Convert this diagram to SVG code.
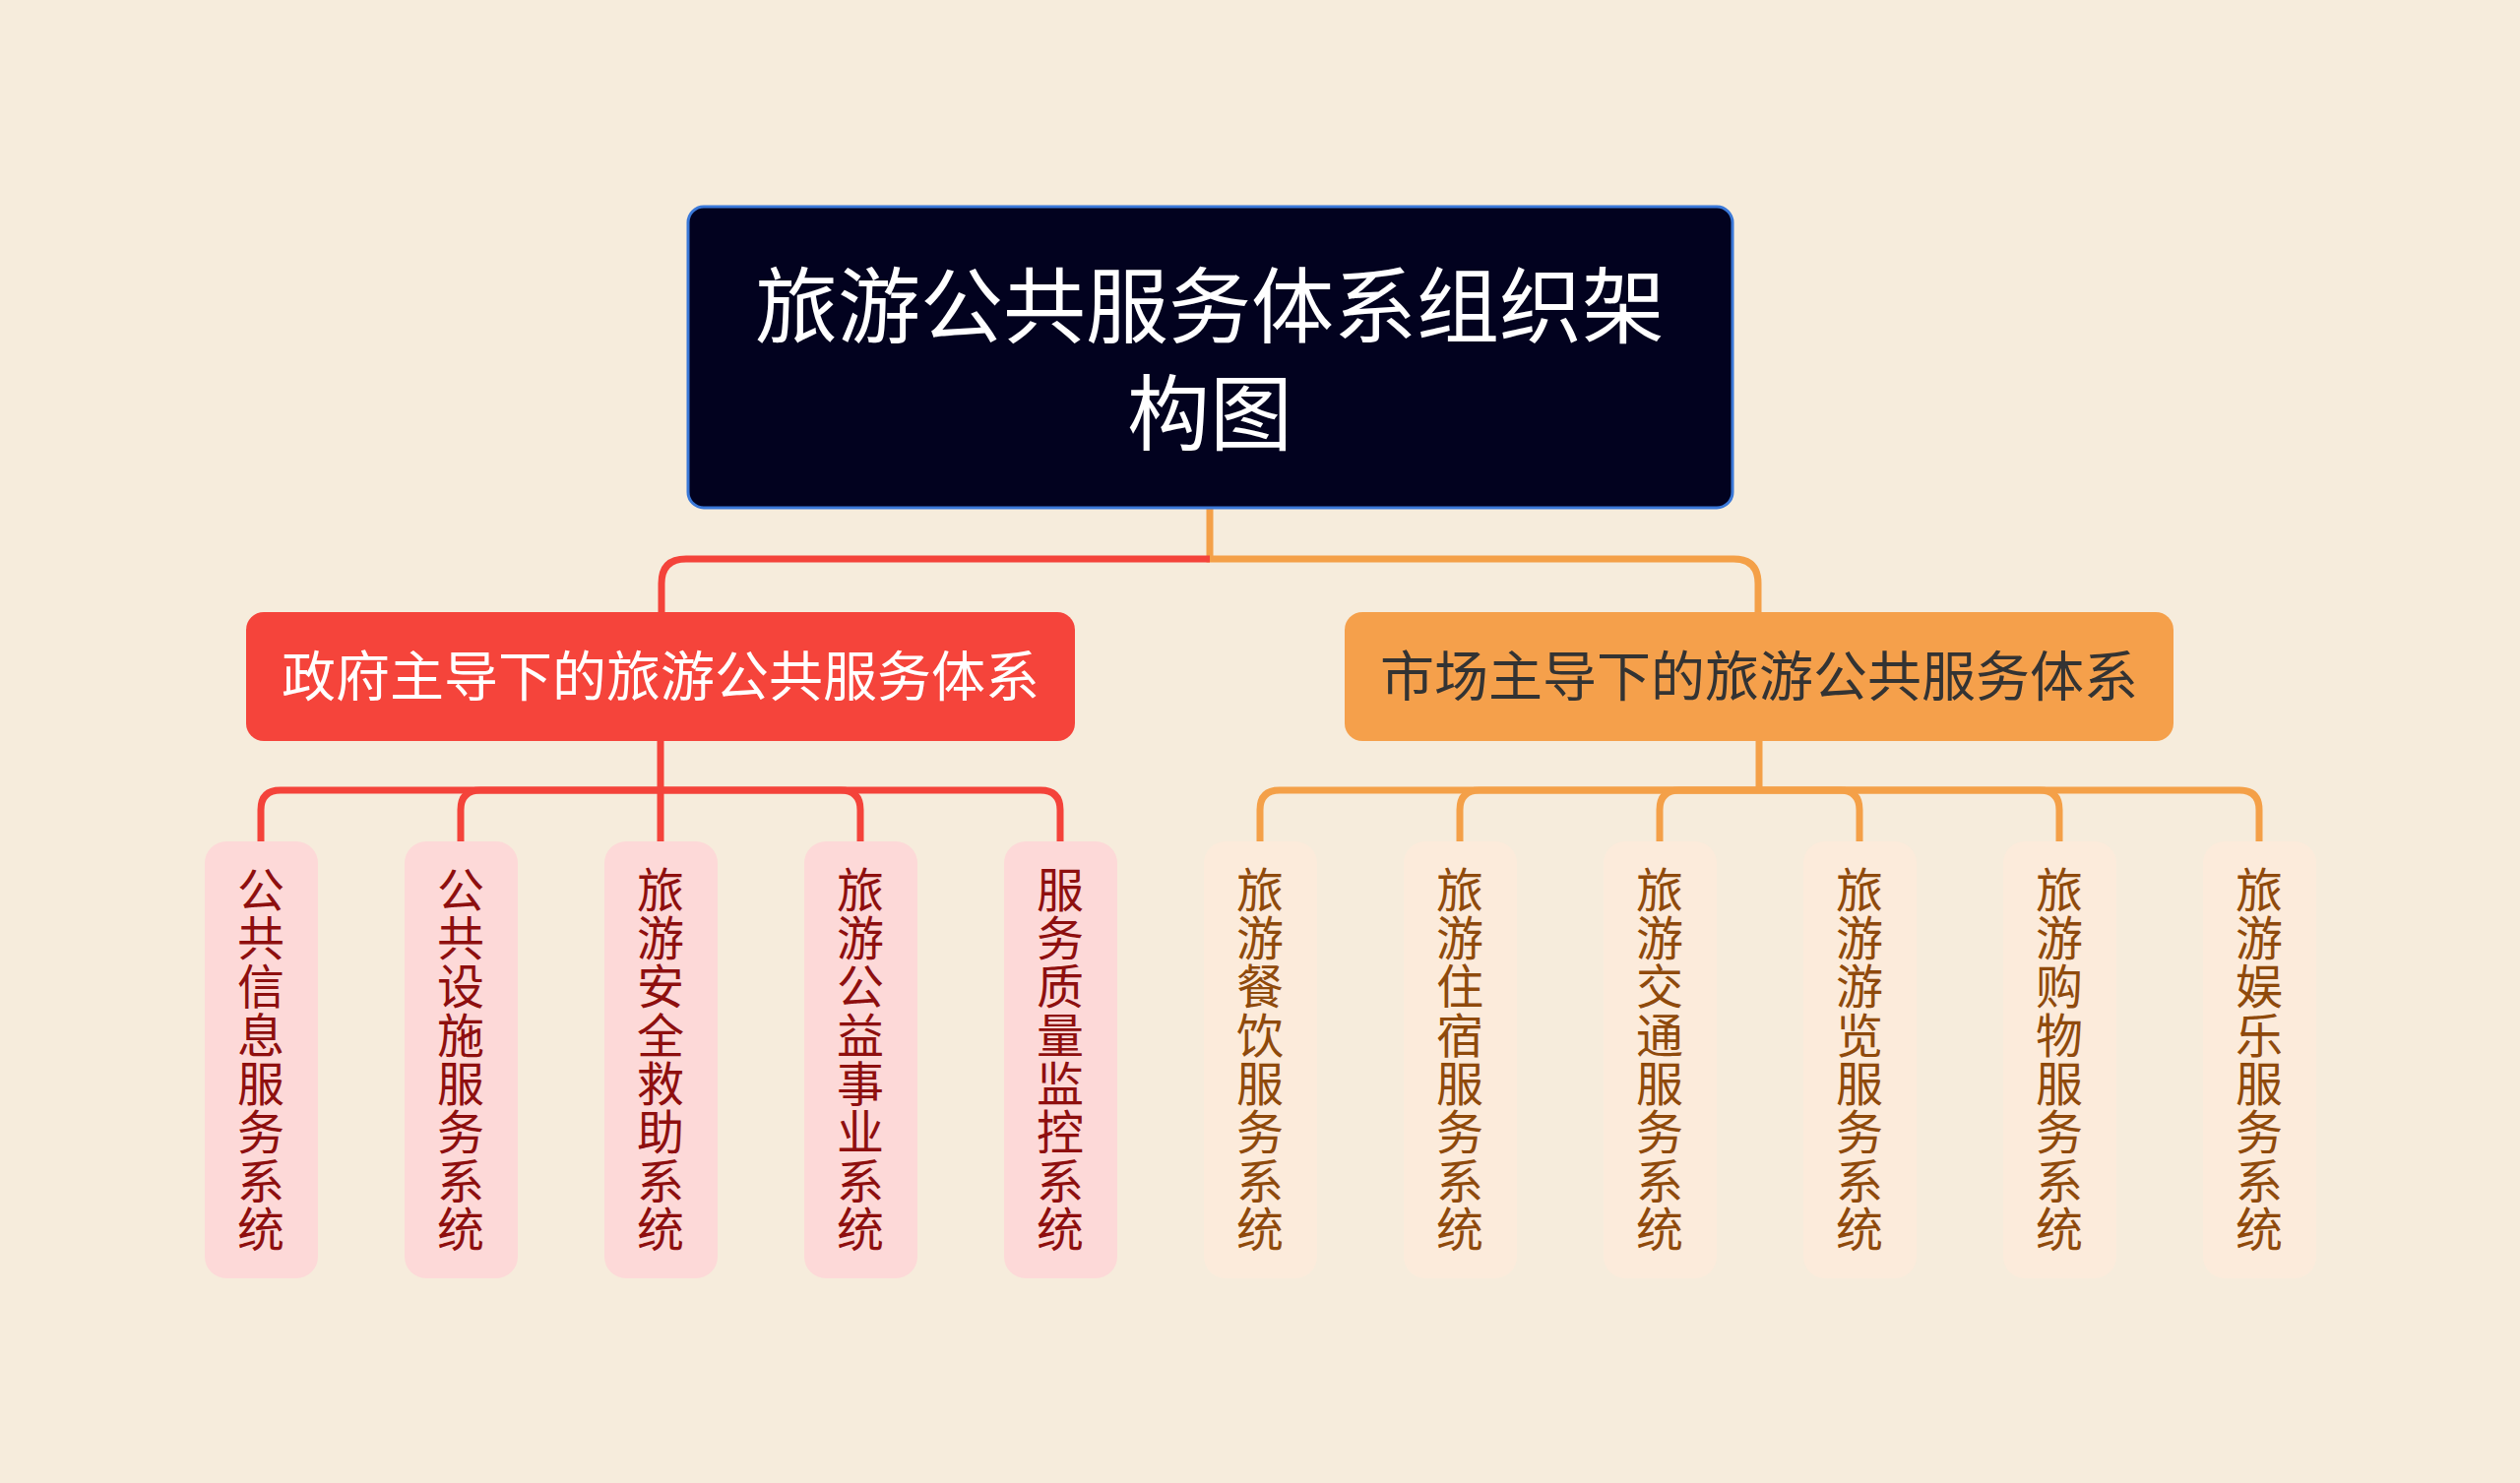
<svg xmlns="http://www.w3.org/2000/svg" width="2560" height="1507" viewBox="0 0 2560 1507">
<style>
text{font-family:"Noto Sans CJK SC","Noto Sans",sans-serif;}
.lr{fill:none;stroke:#f4433a;stroke-width:7;}
.lo{fill:none;stroke:#f4a048;stroke-width:7;}
.leafR{fill:#fdd9d8;}
.leafO{fill:#fcebdb;}
.tR{fill:#8e0f0f;font-size:48px;text-anchor:middle;dominant-baseline:central;}
.tO{fill:#8f4a0c;font-size:48px;text-anchor:middle;dominant-baseline:central;}
</style>
<rect width="2560" height="1507" fill="#f6ecdc"/>
<g id="connectors">
<path class="lo" d="M1229,516 V568 H1761 Q1786,568 1786,593 V622"/>
<path class="lr" d="M1229,568 H697 Q672,568 672,593 V622"/>
<path class="lr" d="M671,753 V855"/>
<path class="lr" d="M671,803 H285 Q265,803 265,823 V855"/>
<path class="lr" d="M671,803 H488 Q468,803 468,823 V855"/>
<path class="lr" d="M671,803 H854 Q874,803 874,823 V855"/>
<path class="lr" d="M671,803 H1057 Q1077,803 1077,823 V855"/>
<path class="lo" d="M1787,753 V803"/>
<path class="lo" d="M1787,803 H1300 Q1280,803 1280,823 V855"/>
<path class="lo" d="M1787,803 H1503 Q1483,803 1483,823 V855"/>
<path class="lo" d="M1787,803 H1706 Q1686,803 1686,823 V855"/>
<path class="lo" d="M1787,803 H1869 Q1889,803 1889,823 V855"/>
<path class="lo" d="M1787,803 H2072 Q2092,803 2092,823 V855"/>
<path class="lo" d="M1787,803 H2275 Q2295,803 2295,823 V855"/>
</g>
<g id="root">
<rect x="699" y="210" width="1061" height="306" rx="16" fill="#02021f" stroke="#3a78d8" stroke-width="3"/>
<text x="1229" y="305" font-size="84" fill="#ffffff" text-anchor="middle" dominant-baseline="central">旅游公共服务体系组织架</text>
<text x="1229" y="414" font-size="84" fill="#ffffff" text-anchor="middle" dominant-baseline="central">构图</text>
</g>
<g id="gov">
<rect x="250" y="622" width="842" height="131" rx="18" fill="#f5443b"/>
<text x="671" y="683" font-size="55" fill="#ffffff" text-anchor="middle" dominant-baseline="central">政府主导下的旅游公共服务体系</text>
</g>
<g id="market">
<rect x="1366" y="622" width="842" height="131" rx="18" fill="#f5a04b"/>
<text x="1787" y="683" font-size="55" fill="#333333" text-anchor="middle" dominant-baseline="central">市场主导下的旅游公共服务体系</text>
</g>
<g id="r1"><rect class="leafR" x="208" y="855" width="115" height="444" rx="22"/>
<text class="tR"><tspan x="265" y="901">公</tspan><tspan x="265" y="950">共</tspan><tspan x="265" y="999">信</tspan><tspan x="265" y="1049">息</tspan><tspan x="265" y="1098">服</tspan><tspan x="265" y="1147">务</tspan><tspan x="265" y="1197">系</tspan><tspan x="265" y="1246">统</tspan></text></g>
<g id="r2"><rect class="leafR" x="411" y="855" width="115" height="444" rx="22"/>
<text class="tR"><tspan x="468" y="901">公</tspan><tspan x="468" y="950">共</tspan><tspan x="468" y="999">设</tspan><tspan x="468" y="1049">施</tspan><tspan x="468" y="1098">服</tspan><tspan x="468" y="1147">务</tspan><tspan x="468" y="1197">系</tspan><tspan x="468" y="1246">统</tspan></text></g>
<g id="r3"><rect class="leafR" x="614" y="855" width="115" height="444" rx="22"/>
<text class="tR"><tspan x="671" y="901">旅</tspan><tspan x="671" y="950">游</tspan><tspan x="671" y="999">安</tspan><tspan x="671" y="1049">全</tspan><tspan x="671" y="1098">救</tspan><tspan x="671" y="1147">助</tspan><tspan x="671" y="1197">系</tspan><tspan x="671" y="1246">统</tspan></text></g>
<g id="r4"><rect class="leafR" x="817" y="855" width="115" height="444" rx="22"/>
<text class="tR"><tspan x="874" y="901">旅</tspan><tspan x="874" y="950">游</tspan><tspan x="874" y="999">公</tspan><tspan x="874" y="1049">益</tspan><tspan x="874" y="1098">事</tspan><tspan x="874" y="1147">业</tspan><tspan x="874" y="1197">系</tspan><tspan x="874" y="1246">统</tspan></text></g>
<g id="r5"><rect class="leafR" x="1020" y="855" width="115" height="444" rx="22"/>
<text class="tR"><tspan x="1077" y="901">服</tspan><tspan x="1077" y="950">务</tspan><tspan x="1077" y="999">质</tspan><tspan x="1077" y="1049">量</tspan><tspan x="1077" y="1098">监</tspan><tspan x="1077" y="1147">控</tspan><tspan x="1077" y="1197">系</tspan><tspan x="1077" y="1246">统</tspan></text></g>
<g id="o1"><rect class="leafO" x="1223" y="855" width="115" height="444" rx="22"/>
<text class="tO"><tspan x="1280" y="901">旅</tspan><tspan x="1280" y="950">游</tspan><tspan x="1280" y="999">餐</tspan><tspan x="1280" y="1049">饮</tspan><tspan x="1280" y="1098">服</tspan><tspan x="1280" y="1147">务</tspan><tspan x="1280" y="1197">系</tspan><tspan x="1280" y="1246">统</tspan></text></g>
<g id="o2"><rect class="leafO" x="1426" y="855" width="115" height="444" rx="22"/>
<text class="tO"><tspan x="1483" y="901">旅</tspan><tspan x="1483" y="950">游</tspan><tspan x="1483" y="999">住</tspan><tspan x="1483" y="1049">宿</tspan><tspan x="1483" y="1098">服</tspan><tspan x="1483" y="1147">务</tspan><tspan x="1483" y="1197">系</tspan><tspan x="1483" y="1246">统</tspan></text></g>
<g id="o3"><rect class="leafO" x="1629" y="855" width="115" height="444" rx="22"/>
<text class="tO"><tspan x="1686" y="901">旅</tspan><tspan x="1686" y="950">游</tspan><tspan x="1686" y="999">交</tspan><tspan x="1686" y="1049">通</tspan><tspan x="1686" y="1098">服</tspan><tspan x="1686" y="1147">务</tspan><tspan x="1686" y="1197">系</tspan><tspan x="1686" y="1246">统</tspan></text></g>
<g id="o4"><rect class="leafO" x="1832" y="855" width="115" height="444" rx="22"/>
<text class="tO"><tspan x="1889" y="901">旅</tspan><tspan x="1889" y="950">游</tspan><tspan x="1889" y="999">游</tspan><tspan x="1889" y="1049">览</tspan><tspan x="1889" y="1098">服</tspan><tspan x="1889" y="1147">务</tspan><tspan x="1889" y="1197">系</tspan><tspan x="1889" y="1246">统</tspan></text></g>
<g id="o5"><rect class="leafO" x="2035" y="855" width="115" height="444" rx="22"/>
<text class="tO"><tspan x="2092" y="901">旅</tspan><tspan x="2092" y="950">游</tspan><tspan x="2092" y="999">购</tspan><tspan x="2092" y="1049">物</tspan><tspan x="2092" y="1098">服</tspan><tspan x="2092" y="1147">务</tspan><tspan x="2092" y="1197">系</tspan><tspan x="2092" y="1246">统</tspan></text></g>
<g id="o6"><rect class="leafO" x="2238" y="855" width="115" height="444" rx="22"/>
<text class="tO"><tspan x="2295" y="901">旅</tspan><tspan x="2295" y="950">游</tspan><tspan x="2295" y="999">娱</tspan><tspan x="2295" y="1049">乐</tspan><tspan x="2295" y="1098">服</tspan><tspan x="2295" y="1147">务</tspan><tspan x="2295" y="1197">系</tspan><tspan x="2295" y="1246">统</tspan></text></g>
</svg>
